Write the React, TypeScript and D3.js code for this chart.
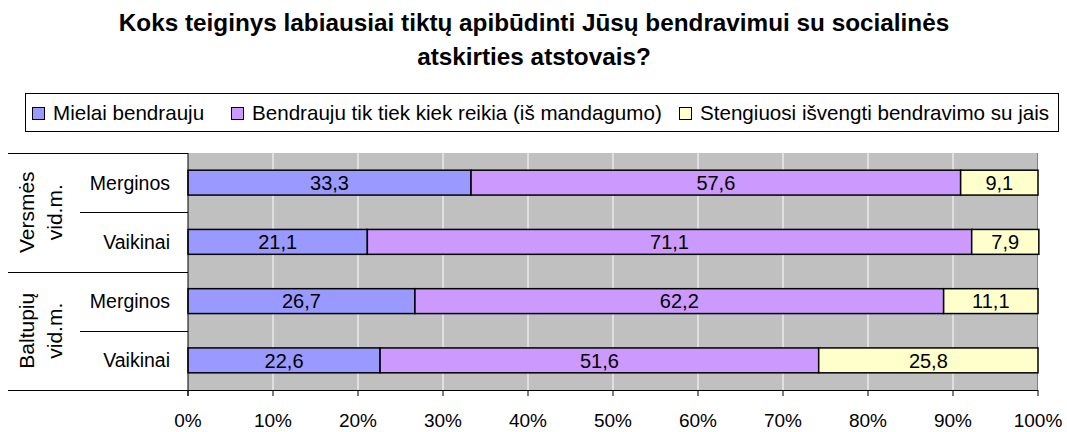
import React from 'react';
import * as d3 from 'd3';

const title = ['Koks teiginys labiausiai tiktų apibūdinti Jūsų bendravimui su socialinės', 'atskirties atstovais?'];
const seriesNames = ['Mielai bendrauju', 'Bendrauju tik tiek kiek reikia (iš mandagumo)', 'Stengiuosi išvengti bendravimo su jais'];
const seriesColors = ['#9999FF', '#CC99FF', '#FFFFCC'];
const groups = [['Versmės', 'vid.m.'], ['Baltupių', 'vid.m.']];
const categories = ['Merginos', 'Vaikinai', 'Merginos', 'Vaikinai'];
const mielai = [33.3, 21.1, 26.7, 22.6];
const tiekKiek = [57.6, 71.1, 62.2, 51.6];
const isvengti = [9.1, 7.9, 11.1, 25.8];
const ticks = [0, 10, 20, 30, 40, 50, 60, 70, 80, 90, 100];

const FONT = "'Liberation Sans', Arial, sans-serif";

export default function App() {
  const width = 1067;
  const height = 432;
  const plot = { left: 188, right: 1038, top: 153, bottom: 390 };

  const x = d3.scaleLinear().domain([0, 100]).range([plot.left, plot.right]);
  const y = d3
    .scaleBand<number>()
    .domain(d3.range(categories.length))
    .range([plot.top, plot.bottom])
    .paddingInner(0.58)
    .paddingOuter(0.29);
  const rowH = (plot.bottom - plot.top) / categories.length;

  const series = [mielai, tiekKiek, isvengti];
  const stacked = categories.map((_, i) => {
    let acc = 0;
    return series.map((s, k) => {
      const start = acc;
      acc += s[i];
      return { k, start, end: acc, v: s[i] };
    });
  });

  // legend text starts
  const legendX = [53, 252, 700];

  return (
    <svg width={width} height={height} style={{ position: 'absolute', left: 0, top: 0 }} fontFamily={FONT}>
      <rect width={width} height={height} fill="#fff" />
      {title.map((t, i) => (
        <text key={i} x={534} y={31 + i * 34} textAnchor="middle" fontSize={24.3} fontWeight="bold">
          {t}
        </text>
      ))}

      {/* legend */}
      <rect x={25.5} y={93.5} width={1033} height={38} fill="#fff" stroke="#000" />
      {seriesNames.map((n, k) => (
        <g key={k}>
          <rect x={legendX[k] - 20.5} y={107.5} width={12} height={12} fill={seriesColors[k]} stroke="#000" />
          <text x={legendX[k]} y={120} fontSize={20.6}>
            {n}
          </text>
        </g>
      ))}

      {/* plot area */}
      <rect x={plot.left} y={plot.top} width={plot.right - plot.left} height={plot.bottom - plot.top} fill="#C0C0C0" />
      {ticks.slice(1, -1).map((t) => (
        <line key={t} x1={x(t)} x2={x(t)} y1={plot.top} y2={plot.bottom} stroke="#fff" strokeWidth={1} />
      ))}
      <line x1={plot.right - 0.5} x2={plot.right - 0.5} y1={plot.top} y2={plot.bottom} stroke="#808080" />

      {stacked.map((row, i) =>
        row.map((d) => (
          <g key={`${i}-${d.k}`}>
            <rect
              x={x(d.start)}
              y={y(i)!}
              width={x(d.end) - x(d.start)}
              height={y.bandwidth()}
              fill={seriesColors[d.k]}
              stroke="#000"
              strokeWidth={1.5}
            />
            <text
              x={(x(d.start) + x(d.end)) / 2}
              y={y(i)! + y.bandwidth() / 2}
              dy="0.36em"
              textAnchor="middle"
              fontSize={20}
            >
              {d.v.toFixed(1).replace('.', ',')}
            </text>
          </g>
        ))
      )}

      {/* axes */}
      <line x1={plot.left} x2={plot.left} y1={plot.top} y2={plot.bottom + 6} stroke="#000" />
      <line x1={plot.left} x2={plot.right} y1={plot.bottom + 0.5} y2={plot.bottom + 0.5} stroke="#000" />
      {ticks.map((t) => (
        <g key={t}>
          <line x1={x(t)} x2={x(t)} y1={plot.bottom} y2={plot.bottom + 6} stroke="#000" />
          <text x={x(t)} y={427} textAnchor="middle" fontSize={19}>
            {t}%
          </text>
        </g>
      ))}

      {/* left hierarchical axis */}
      {d3.range(categories.length + 1).map((i) => {
        const yy = Math.round(plot.top + i * rowH) + 0.5;
        const outer = i % 2 === 0;
        return <line key={i} x1={outer ? 8 : 80} x2={plot.left} y1={yy} y2={yy} stroke="#000" />;
      })}
      {categories.map((c, i) => (
        <text key={i} x={170} y={plot.top + (i + 0.5) * rowH} dy="0.36em" textAnchor="end" fontSize={19.5}>
          {c}
        </text>
      ))}
      {groups.map((g, gi) => {
        const cy = plot.top + (gi * 2 + 1) * rowH;
        return (
          <text key={gi} transform={`translate(0,${cy}) rotate(-90)`} textAnchor="middle" fontSize={21}>
            {g.map((l, li) => (
              <tspan key={li} x={0} y={34 + li * 28}>
                {l}
              </tspan>
            ))}
          </text>
        );
      })}
    </svg>
  );
}
